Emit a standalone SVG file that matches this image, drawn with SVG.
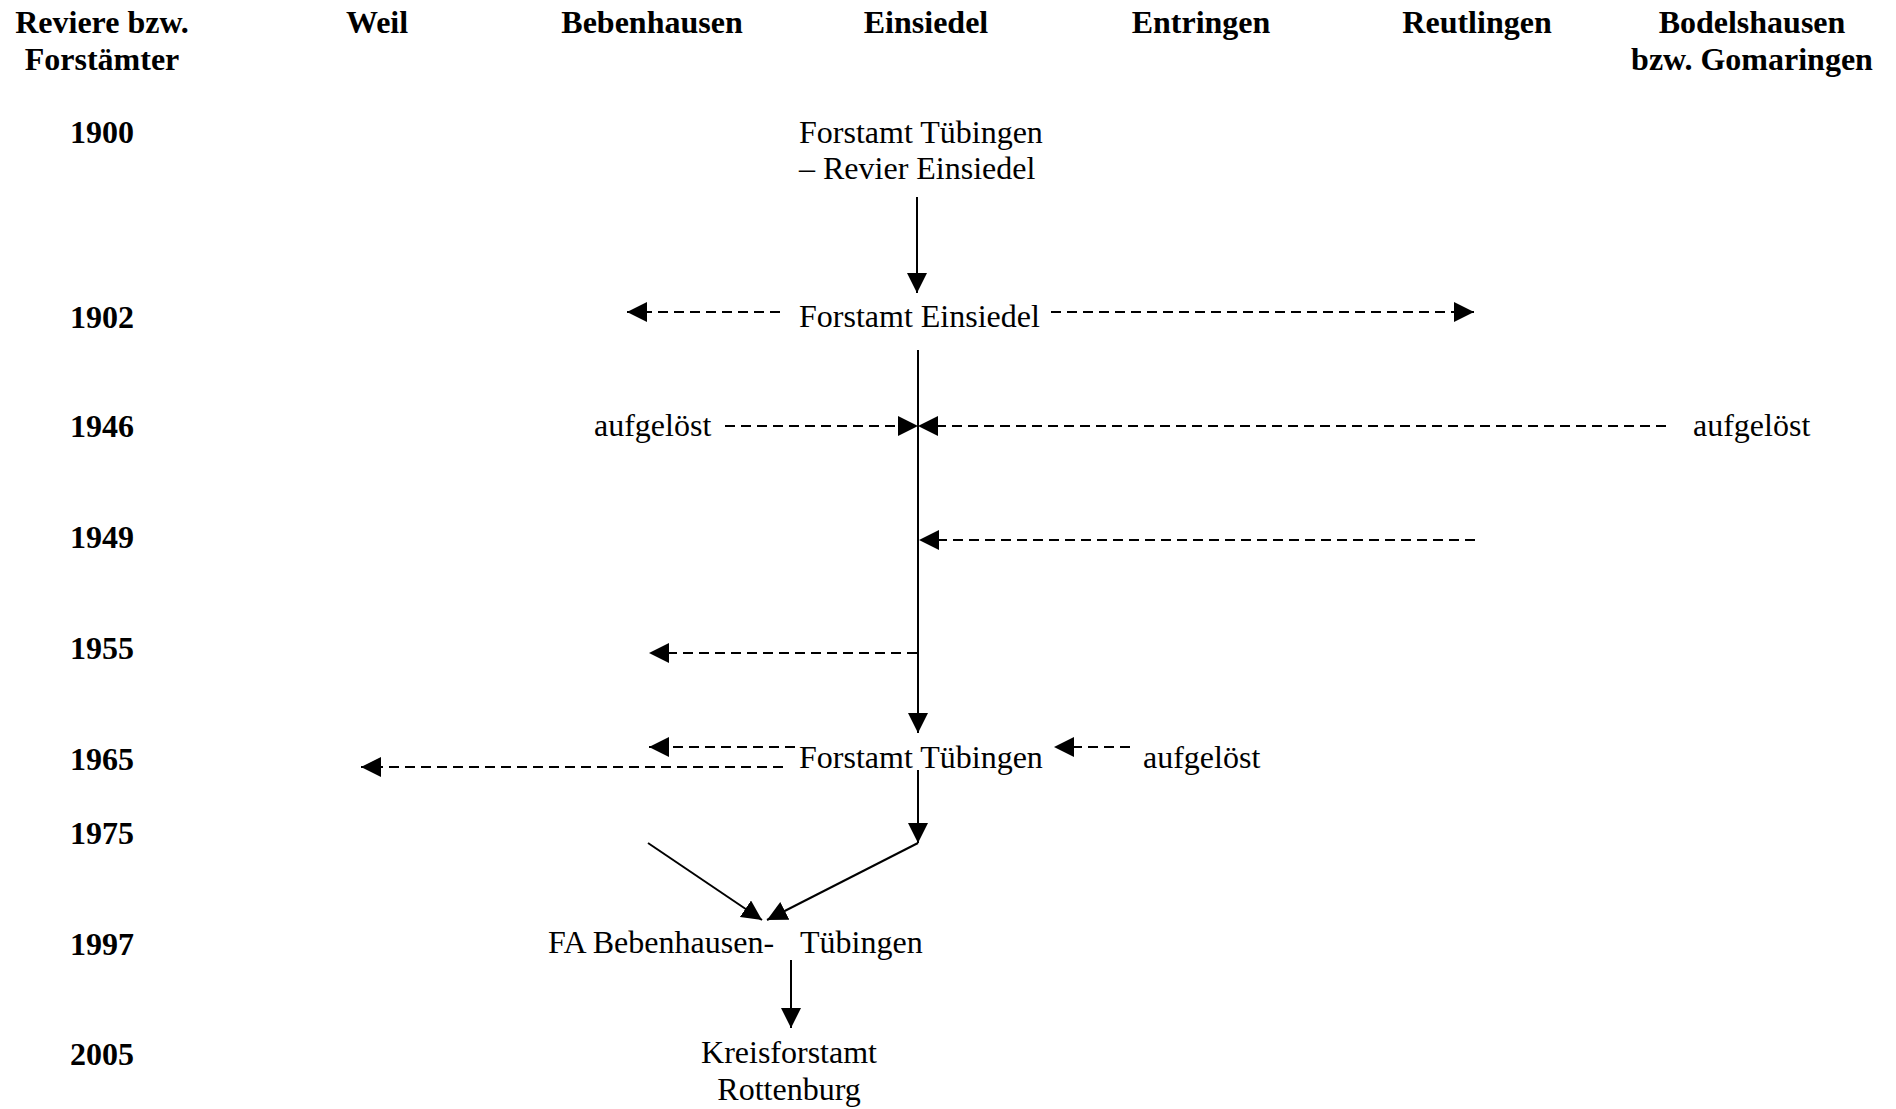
<svg xmlns="http://www.w3.org/2000/svg" width="1896" height="1109" viewBox="0 0 1896 1109">
<style>
text{font-family:"Liberation Serif","Times New Roman",serif;font-size:32px;fill:#000}
.h{font-weight:bold;text-anchor:middle}
.c{text-anchor:middle}
.s{stroke:#000;stroke-width:2;fill:none}
.d{stroke:#000;stroke-width:2;fill:none;stroke-dasharray:10 6}
</style>
<defs>
<marker id="ah" markerUnits="userSpaceOnUse" markerWidth="20" markerHeight="20" refX="20" refY="10" orient="auto"><path d="M0,0 L20,10 L0,20 Z" fill="#000"/></marker>
</defs>
<rect width="1896" height="1109" fill="#fff"/>
<g id="header">
<text class="h" x="102" y="33">Reviere bzw.</text>
<text class="h" x="102" y="70">Forstämter</text>
<text class="h" x="377" y="33">Weil</text>
<text class="h" x="652" y="33">Bebenhausen</text>
<text class="h" x="926" y="33">Einsiedel</text>
<text class="h" x="1201" y="33">Entringen</text>
<text class="h" x="1477" y="33">Reutlingen</text>
<text class="h" x="1752" y="33">Bodelshausen</text>
<text class="h" x="1752" y="70">bzw. Gomaringen</text>
</g>
<g id="years">
<text class="h" x="102" y="143">1900</text>
<text class="h" x="102" y="328">1902</text>
<text class="h" x="102" y="437">1946</text>
<text class="h" x="102" y="548">1949</text>
<text class="h" x="102" y="659">1955</text>
<text class="h" x="102" y="770">1965</text>
<text class="h" x="102" y="844">1975</text>
<text class="h" x="102" y="955">1997</text>
<text class="h" x="102" y="1065">2005</text>
</g>
<g id="n1900"><text x="799" y="143">Forstamt Tübingen</text><text x="799" y="179">– Revier Einsiedel</text></g>
<g id="n1902"><text x="799" y="327">Forstamt Einsiedel</text></g>
<g id="n1946a"><text x="594" y="436">aufgelöst</text></g>
<g id="n1946b"><text x="1693" y="436">aufgelöst</text></g>
<g id="n1965"><text x="799" y="768">Forstamt Tübingen</text></g>
<g id="n1965b"><text x="1143" y="768">aufgelöst</text></g>
<g id="n1997"><text x="548" y="953">FA Bebenhausen-</text><text x="800" y="953">Tübingen</text></g>
<g id="n2005"><text class="c" x="789" y="1063">Kreisforstamt</text><text class="c" x="789" y="1100">Rottenburg</text></g>
<g id="connectors">
<line class="s" x1="917" y1="197" x2="917" y2="293" marker-end="url(#ah)"/>
<line class="d" x1="780" y1="312" x2="627" y2="312" marker-end="url(#ah)"/>
<line class="d" x1="1051" y1="312" x2="1474" y2="312" marker-end="url(#ah)"/>
<line class="s" x1="918" y1="350" x2="918" y2="733" marker-end="url(#ah)"/>
<line class="d" x1="725" y1="426" x2="918" y2="426" marker-end="url(#ah)"/>
<line class="d" x1="1666" y1="426" x2="918" y2="426" marker-end="url(#ah)"/>
<line class="d" x1="1475" y1="540" x2="919" y2="540" marker-end="url(#ah)"/>
<line class="d" x1="917" y1="653" x2="649" y2="653" marker-end="url(#ah)"/>
<line class="d" x1="795" y1="747" x2="649" y2="747" marker-end="url(#ah)"/>
<line class="d" x1="783" y1="767" x2="361" y2="767" marker-end="url(#ah)"/>
<line class="d" x1="1130" y1="747" x2="1054" y2="747" marker-end="url(#ah)"/>
<line class="s" x1="918" y1="770" x2="918" y2="843" marker-end="url(#ah)"/>
<line class="s" x1="648" y1="843" x2="762" y2="920" marker-end="url(#ah)"/>
<line class="s" x1="918" y1="843" x2="767" y2="920" marker-end="url(#ah)"/>
<line class="s" x1="791" y1="960" x2="791" y2="1028" marker-end="url(#ah)"/>
</g>
</svg>
